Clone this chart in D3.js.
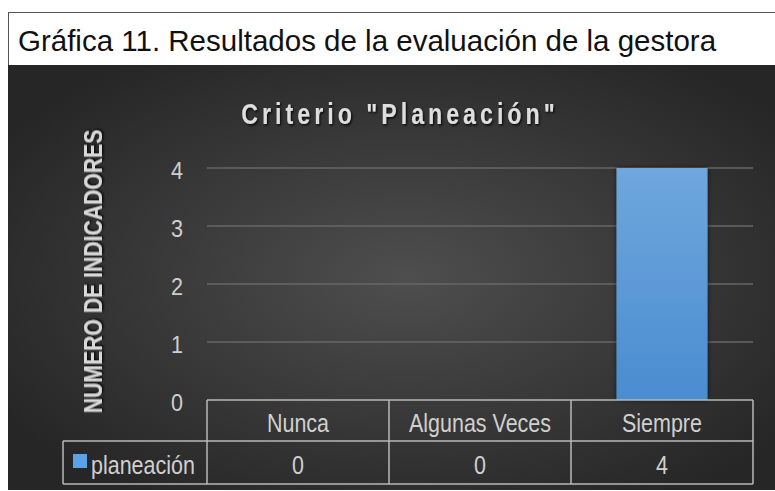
<!DOCTYPE html>
<html><head><meta charset="utf-8">
<script src="https://cdn.jsdelivr.net/npm/d3@7"></script>
<style>body{margin:0;background:#fff;} svg{display:block;}</style>
</head><body>
<svg id="c" width="775" height="491"></svg>
<script>
const categories = ["Nunca", "Algunas Veces", "Siempre"];
const seriesName = "planeación";
const values = [0, 0, 4];
const yTicks = [0, 1, 2, 3, 4];
const pageTitle = "Gráfica 11. Resultados de la evaluación de la gestora";
const chartTitle = "Criterio \"Planeación\"";
const yLabel = "NUMERO DE INDICADORES";

const svg = d3.select("#c");
const defs = svg.append("defs");
const rg = defs.append("radialGradient").attr("id","bg").attr("cx","52%").attr("cy","50%").attr("r","62%");
rg.append("stop").attr("offset","0%").attr("stop-color","#4e4e4e");
rg.append("stop").attr("offset","100%").attr("stop-color","#262626");
const bg = defs.append("linearGradient").attr("id","bar").attr("x1",0).attr("y1",0).attr("x2",0).attr("y2",1);
bg.append("stop").attr("offset","0%").attr("stop-color","#6fa7dd");
bg.append("stop").attr("offset","100%").attr("stop-color","#4a8cd0");
const sh = defs.append("filter").attr("id","sh").attr("x","-10%").attr("y","-20%").attr("width","130%").attr("height","160%");
sh.append("feDropShadow").attr("dx",1.5).attr("dy",1.5).attr("stdDeviation",1).attr("flood-color","#000").attr("flood-opacity",0.85);
const bsh = defs.append("filter").attr("id","bsh").attr("x","-20%").attr("y","-5%").attr("width","140%").attr("height","110%");
bsh.append("feDropShadow").attr("dx",0).attr("dy",0).attr("stdDeviation",2.5).attr("flood-color","#000").attr("flood-opacity",0.6);

const FONT = "Liberation Sans, Arial, sans-serif";
function txt(parent, x, y, s, o) {
  const g = parent.append("g").attr("transform", `translate(${x},${y})` + (o.rot ? ` rotate(${o.rot})` : "") + ` scale(${o.sx || 1},1)`);
  const t = g.append("text").attr("x",0).attr("y",0)
    .attr("font-family",FONT).attr("font-size",o.size).attr("fill",o.fill || "#d0d0d0")
    .attr("text-anchor",o.anchor || "start").text(s);
  if (o.weight) t.attr("font-weight",o.weight);
  if (o.ls) t.attr("letter-spacing",o.ls);
  if (o.filter) t.attr("filter",o.filter);
  return t;
}

// page title box
svg.append("rect").attr("x",8.5).attr("y",12.5).attr("width",775).attr("height",53).attr("fill","#fff").attr("stroke","#555").attr("stroke-width",1);
txt(svg, 18, 51, pageTitle, {size:29.5, fill:"#111"});

// dark chart area
svg.append("rect").attr("x",8).attr("y",65).attr("width",767).attr("height",425).attr("fill","url(#bg)");

const x = d3.scaleBand().domain(categories).range([207, 753]).paddingInner(0).paddingOuter(0);
const y = d3.scaleLinear().domain([0, 4]).range([400, 168]);

// gridlines
svg.append("g").selectAll("line").data(yTicks.filter(t=>t>0)).join("line")
  .attr("x1",207).attr("x2",753).attr("y1",d=>y(d)).attr("y2",d=>y(d))
  .attr("stroke","#676767").attr("stroke-width",1.3);

// y tick labels
const yg = svg.append("g");
yTicks.forEach(t => txt(yg, 177, y(t)+11, String(t), {size:23.5, sx:0.92, anchor:"middle", fill:"#cfcfcf"}));

// bars
const bw = x.bandwidth()*0.5;
svg.append("g").selectAll("rect").data(values).join("rect")
  .attr("x",(d,i)=>x(categories[i])+x.bandwidth()/2-bw/2)
  .attr("y",d=>y(d)).attr("width",bw).attr("height",d=>y(0)-y(d))
  .attr("fill","url(#bar)").attr("filter","url(#bsh)");

// chart title
txt(svg, 400, 124, chartTitle, {size:29, weight:"bold", sx:0.8, ls:5, anchor:"middle", fill:"#dedede", filter:"url(#sh)"});

// y label
txt(svg, 102, 271.5, yLabel, {size:26.5, weight:"bold", sx:0.8, rot:-90, anchor:"middle", fill:"#d8d8d8", filter:"url(#sh)"});

// data table
const tbl = svg.append("g").attr("stroke","#b8b8b8").attr("stroke-width",1.5).attr("fill","none");
const rowTop = 400, rowMid = 441, rowBot = 484, tLeft = 63;
tbl.append("line").attr("x1",207).attr("x2",753).attr("y1",rowTop).attr("y2",rowTop);
tbl.append("line").attr("x1",tLeft).attr("x2",753).attr("y1",rowMid).attr("y2",rowMid);
tbl.append("line").attr("x1",tLeft).attr("x2",753).attr("y1",rowBot).attr("y2",rowBot);
tbl.append("line").attr("x1",tLeft).attr("x2",tLeft).attr("y1",rowMid).attr("y2",rowBot);
tbl.selectAll("line.v").data(categories.map(c=>x(c)).concat([753])).join("line").attr("class","v")
  .attr("x1",d=>d).attr("x2",d=>d).attr("y1",rowTop).attr("y2",rowBot);

const tg = svg.append("g");
categories.forEach(c => txt(tg, x(c)+x.bandwidth()/2, 432, c, {size:26.5, sx:0.81, anchor:"middle"}));
values.forEach((v,i) => txt(tg, x(categories[i])+x.bandwidth()/2, 474, String(v), {size:26.5, sx:0.81, anchor:"middle"}));
svg.append("rect").attr("x",73).attr("y",454).attr("width",14).attr("height",14).attr("fill","#5ba3e8");
txt(tg, 91, 474, seriesName, {size:26.5, sx:0.81});
</script>
</body></html>
